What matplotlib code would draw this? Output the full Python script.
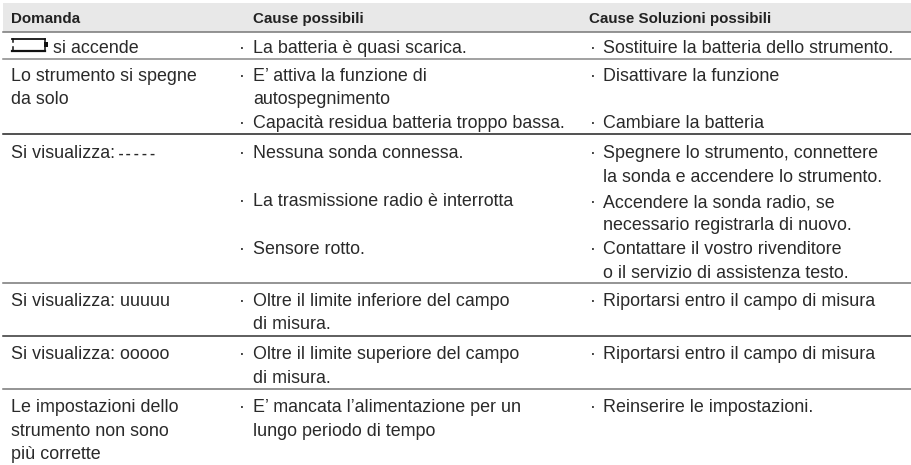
import matplotlib.pyplot as plt
from matplotlib.patches import Rectangle

headers = ["Domanda", "Cause possibili", "Cause Soluzioni possibili"]

col1 = ["si accende", "Lo strumento si spegne", "da solo", "Si visualizza:",
        "Si visualizza: uuuuu", "Si visualizza: ooooo", "Le impostazioni dello",
        "strumento non sono", "più corrette"]
col2 = ["La batteria è quasi scarica.", "E’ attiva la funzione di", "autospegnimento",
        "Capacità residua batteria troppo bassa.", "Nessuna sonda connessa.",
        "La trasmissione radio è interrotta", "Sensore rotto.",
        "Oltre il limite inferiore del campo", "di misura.",
        "Oltre il limite superiore del campo", "di misura.",
        "E’ mancata l’alimentazione per un", "lungo periodo di tempo"]
col3 = ["Sostituire la batteria dello strumento.", "Disattivare la funzione",
        "Cambiare la batteria", "Spegnere lo strumento, connettere",
        "la sonda e accendere lo strumento.", "Accendere la sonda radio, se",
        "necessario registrarla di nuovo.", "Contattare il vostro rivenditore",
        "o il servizio di assistenza testo.", "Riportarsi entro il campo di misura",
        "Riportarsi entro il campo di misura", "Reinserire le impostazioni."]

col1_y = [53, 81, 104, 158, 306, 359, 412, 436, 459]
col2_y = [53, 81, 104, 128, 158, 206, 254, 306, 329, 359, 383, 412, 436]
col3_y = [53, 81, 128, 158, 182, 207, 230, 254, 278, 306, 359, 412]
col2_bullets = [0, 1, 3, 4, 5, 6, 7, 9, 11]
col3_bullets = [0, 1, 2, 3, 5, 7, 9, 10, 11]

rule_y = [32, 59, 134, 283, 335.5, 388.5]
rule_c = ["#777777", "#888888", "#222222", "#777777", "#333333", "#777777"]

TEXT = "#2a2a2a"
SIZE = 12.9

fig = plt.figure(figsize=(9.11, 4.65), dpi=100)
ax = fig.add_axes([0, 0, 1, 1])
ax.set_xlim(0, 911)
ax.set_ylim(465, 0)
ax.axis("off")
plt.rcParams["font.family"] = "Liberation Sans"

ax.add_patch(Rectangle((3, 3), 908, 29, color="#e8e8e8", lw=0))
for y, c in zip(rule_y, rule_c):
    ax.plot([3, 911], [y, y], color=c, lw=1.1)

for x, h in zip([11, 253, 589], headers):
    ax.text(x, 23, h, weight="bold", fontsize=10.9, color="#222222")

for s, y in zip(col1, col1_y):
    ax.text(53 if s == "si accende" else 11, y, s, fontsize=SIZE, color=TEXT)
ax.text(117, 158, "-----", family="Liberation Mono", weight="bold", fontsize=9.8, color=TEXT)
for i, (s, y) in enumerate(zip(col2, col2_y)):
    ax.text(253, y, s, fontsize=SIZE, color=TEXT)
    if i in col2_bullets:
        ax.text(239, y, "·", fontsize=SIZE, color=TEXT)
for i, (s, y) in enumerate(zip(col3, col3_y)):
    ax.text(603, y, s, fontsize=SIZE, color=TEXT)
    if i in col3_bullets:
        ax.text(590, y, "·", fontsize=SIZE, color=TEXT)

# battery icon
ax.plot([12, 45], [39, 39], color="#111111", lw=1.3)
ax.plot([12, 45], [51, 51], color="#111111", lw=1.6)
for x in [12.5, 44.5]:
    ax.plot([x, x], [39, 42], color="#111111", lw=1.1)
    ax.plot([x, x], [47, 51], color="#111111", lw=1.1)
ax.add_patch(Rectangle((44, 42), 4, 5, color="#111111", lw=0))

fig.savefig("out.png", dpi=100)
